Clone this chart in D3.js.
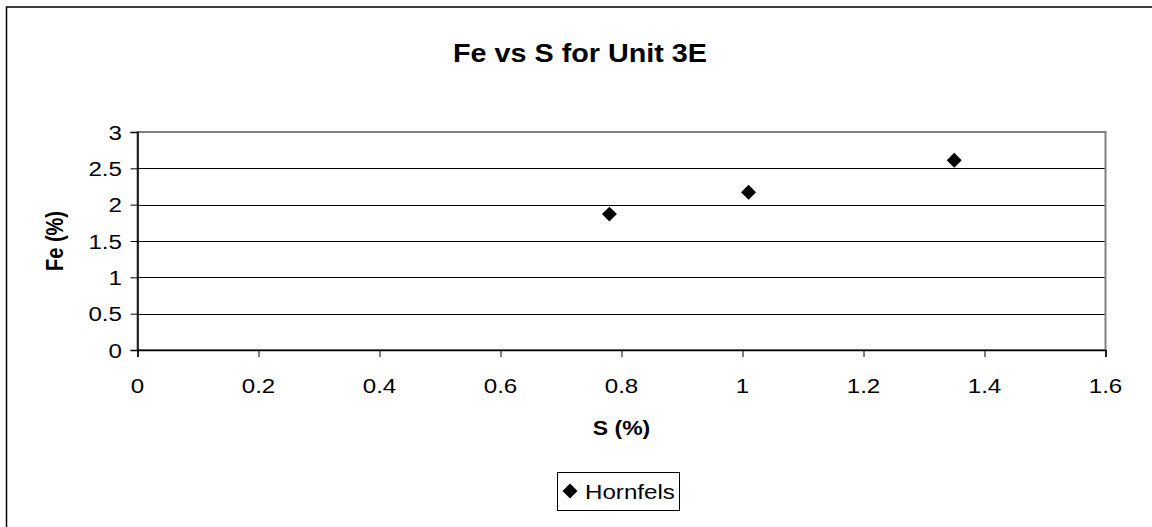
<!DOCTYPE html>
<html><head><meta charset="utf-8">
<script src="https://cdn.jsdelivr.net/npm/d3@7"></script>
<style>
html,body{margin:0;padding:0;background:#fff;}
svg{display:block;font-family:"Liberation Sans",Arial,sans-serif;}
</style></head>
<body>
<svg id="chart" width="1152" height="527"></svg>
<script>
const title = "Fe vs S for Unit 3E";
const xTitle = "S (%)";
const yTitle = "Fe (%)";
const seriesName = "Hornfels";
const sValues = [0.78, 1.01, 1.35];
const feValues = [1.87, 2.17, 2.61];
const xTicks = [0, 0.2, 0.4, 0.6, 0.8, 1, 1.2, 1.4, 1.6];
const yTicks = [0, 0.5, 1, 1.5, 2, 2.5, 3];

const svg = d3.select("#chart");
const SX = 1.15; // horizontal stretch of text
const x = d3.scaleLinear().domain([0, 1.6]).range([137.5, 1105.5]);
const y = d3.scaleLinear().domain([0, 3]).range([350, 132]);

function stext(g, tx, ty, str, size, weight, anchor, rot) {
  return g.append("text")
    .attr("transform", `translate(${tx},${ty}) scale(${SX},1)` + (rot ? ` rotate(${rot})` : ""))
    .attr("text-anchor", anchor)
    .attr("font-size", size)
    .attr("font-weight", weight)
    .attr("fill", "#000")
    .text(str);
}

// outer chart border
svg.append("rect").attr("x", 6.5).attr("y", 7).attr("width", 1200).attr("height", 600)
  .attr("fill", "#fff").attr("stroke", "#000").attr("stroke-width", 1.5);

// gridlines
svg.append("g").selectAll("line").data(yTicks.filter(d => d > 0)).join("line")
  .attr("x1", x(0)).attr("x2", x(1.6))
  .attr("y1", d => Math.round(y(d)) + 0.5).attr("y2", d => Math.round(y(d)) + 0.5)
  .attr("stroke", "#000").attr("stroke-width", 1);

// plot border
svg.append("rect").attr("x", x(0)).attr("y", y(3)).attr("width", x(1.6) - x(0)).attr("height", y(0) - y(3))
  .attr("fill", "none").attr("stroke", "#808080").attr("stroke-width", 2);

// axes
const xAxis = d3.axisBottom(x).tickValues(xTicks).tickSize(7).tickFormat("");
const gx = svg.append("g").attr("transform", `translate(0,${y(0)})`).call(xAxis);
gx.select(".domain").attr("stroke", "#000").attr("stroke-width", 1.5);
gx.selectAll(".tick line").attr("stroke", "#000");
const yAxis = d3.axisLeft(y).tickValues(yTicks).tickSize(7).tickFormat("");
const gy = svg.append("g").attr("transform", `translate(${x(0)},0)`).call(yAxis);
gy.select(".domain").attr("stroke", "#000").attr("stroke-width", 1.5);
gy.selectAll(".tick line").attr("stroke", "#000");

// tick labels
const lab = svg.append("g");
xTicks.forEach(t => stext(lab, x(t), 393, d3.format("")(t), 21, "normal", "middle"));
yTicks.forEach(t => stext(lab, 122, y(t) + 7.5, d3.format("")(t), 21, "normal", "end"));

// titles
stext(svg, 580, 62, title, 25, "bold", "middle");
stext(svg, 621.5, 435, xTitle, 20, "bold", "middle");
stext(svg, 63, 241, yTitle, 20, "bold", "middle", -90);

// points
svg.append("g").selectAll("path").data(sValues.map((s, i) => [s, feValues[i]])).join("path")
  .attr("d", d3.symbol().type(d3.symbolSquare).size(112))
  .attr("transform", d => `translate(${x(d[0])},${y(d[1])}) rotate(45)`)
  .attr("fill", "#000");

// legend
const lg = svg.append("g");
lg.append("rect").attr("x", 557.5).attr("y", 472.5).attr("width", 122).attr("height", 38)
  .attr("fill", "#fff").attr("stroke", "#000").attr("stroke-width", 1);
lg.append("path").attr("d", d3.symbol().type(d3.symbolSquare).size(112)())
  .attr("transform", "translate(570,491) rotate(45)").attr("fill", "#000");
stext(lg, 585, 498.5, seriesName, 21, "normal", "start");
</script>
</body></html>
